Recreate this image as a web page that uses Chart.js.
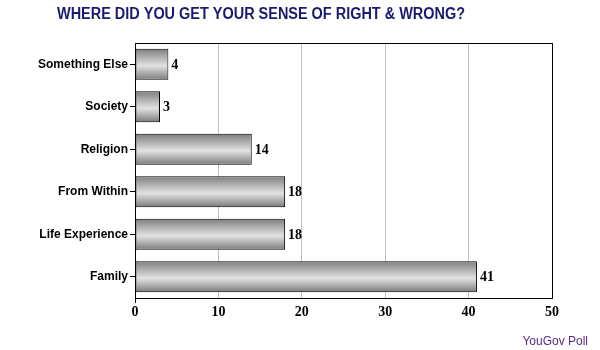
<!DOCTYPE html>
<html>
<head>
<meta charset="utf-8">
<script src="https://cdn.jsdelivr.net/npm/chart.js@4.4.0/dist/chart.umd.min.js"></script>
<style>
  html, body { margin: 0; padding: 0; background: #fff; }
  #wrap { width: 600px; height: 350px; position: relative; }
</style>
</head>
<body>
<div id="wrap"><canvas id="chart" width="600" height="350"></canvas></div>
<script>
const categories = ['Something Else', 'Society', 'Religion', 'From Within', 'Life Experience', 'Family'];
const values = [4, 3, 14, 18, 18, 41];
const xTicks = [0, 10, 20, 30, 40, 50];

const TITLE = 'WHERE DID YOU GET YOUR SENSE OF RIGHT & WRONG?';
const SOURCE = 'YouGov Poll';
const SANS = '"Liberation Sans", Arial, sans-serif';
const SERIF = '"Liberation Serif", "Times New Roman", serif';

function barGradient(ctx) {
    const chart = ctx.chart;
    const yScale = chart.scales.y;
    if (!chart.chartArea || !yScale) return '#b8b8b8';
    const yc = yScale.getPixelForValue(ctx.dataIndex);
    const half = 15.5;
    const g = chart.ctx.createLinearGradient(0, yc - half, 0, yc + half);
    g.addColorStop(0, '#7e7e7e');
    g.addColorStop(0.55, '#e2e2e2');
    g.addColorStop(1, '#7a7a7a');
    return g;
}

// frame, value labels, title and source text
const decorPlugin = {
    id: 'decor',
    afterDatasetsDraw(chart) {
        const c = chart.ctx;
        const a = chart.chartArea;
        c.save();
        c.strokeStyle = '#000';
        c.lineWidth = 1;
        c.strokeRect(a.left + 0.5, a.top + 0.5, a.right - a.left, a.bottom - a.top);

        c.font = 'bold 14px ' + SERIF;
        c.fillStyle = '#000';
        c.textBaseline = 'middle';
        c.textAlign = 'left';
        chart.getDatasetMeta(0).data.forEach((bar, i) => {
            c.fillText(String(values[i]), bar.x + 3, bar.y + 1);
        });
        c.restore();
    },
    afterDraw(chart) {
        const c = chart.ctx;
        c.save();
        c.textBaseline = 'middle';
        c.font = 'bold 16px ' + SANS;
        c.fillStyle = '#1a1a6e';
        c.textAlign = 'center';
        const w = c.measureText(TITLE).width;
        c.translate(261, 15);
        c.scale(408 / w, 1);
        c.fillText(TITLE, 0, 0);
        c.restore();

        c.save();
        c.textBaseline = 'middle';
        c.font = '12px ' + SANS;
        c.fillStyle = '#5a2a8a';
        c.textAlign = 'right';
        c.fillText(SOURCE, 588, 342);
        c.restore();
    }
};

new Chart(document.getElementById('chart'), {
    type: 'bar',
    data: {
        labels: categories,
        datasets: [{
            data: values,
            backgroundColor: barGradient,
            borderColor: '#000',
            borderWidth: 1,
            borderSkipped: false,
            barPercentage: 0.73,
            categoryPercentage: 1
        }]
    },
    options: {
        indexAxis: 'y',
        responsive: false,
        animation: false,
        layout: { padding: { top: 43, right: 48, left: 0, bottom: 0 } },
        plugins: {
            legend: { display: false },
            title: { display: false },
            tooltip: { enabled: false }
        },
        scales: {
            x: {
                min: 0,
                max: 50,
                afterBuildTicks(scale) {
                    scale.ticks = xTicks.map((v) => ({ value: v }));
                },
                afterFit(scale) { scale.height = 52; },
                grid: {
                    color: '#c0c0c0',
                    tickColor: (ctx) => (ctx.index === 0 ? '#000' : 'rgba(0,0,0,0)'),
                    tickLength: 5
                },
                border: { display: true, color: '#000' },
                ticks: {
                    color: '#000',
                    padding: 1,
                    font: { family: SERIF, size: 14, weight: 'bold' }
                }
            },
            y: {
                afterFit(scale) { scale.width = 135; },
                grid: {
                    offset: false,
                    drawOnChartArea: false,
                    tickColor: '#000',
                    tickLength: 5
                },
                border: { display: true, color: '#000' },
                ticks: {
                    color: '#000',
                    padding: 2,
                    font: { family: SANS, size: 12, weight: 'bold' }
                }
            }
        }
    },
    plugins: [decorPlugin]
});
</script>
</body>
</html>
